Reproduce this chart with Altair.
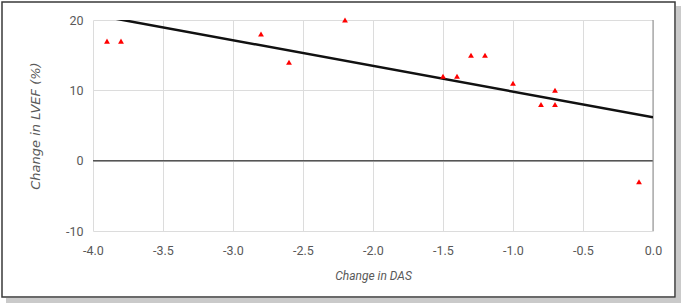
import altair as alt
import pandas as pd

das_change = [-3.9, -3.8, -2.8, -2.6, -2.2, -1.5, -1.4, -1.3, -1.2, -1.0, -0.8, -0.7, -0.7, -0.1]
lvef_change = [17, 17, 18, 14, 20, 12, 12, 15, 15, 11, 8, 10, 8, -3]
x_grid = [-4.0, -3.75, -3.5, -3.25, -3.0, -2.75, -2.5, -2.25, -2.0, -1.75, -1.5, -1.25, -1.0, -0.75, -0.5, -0.25, 0.0]
y_grid = [-10, -5, 0, 5, 10, 15, 20]

df = pd.DataFrame({"x": das_change, "y": lvef_change})

LABEL_FONT = "Liberation Sans Narrow, Roboto"
TITLE_FONT = "Liberation Sans Narrow, Roboto"
GRAY = "#595959"

xscale = alt.Scale(domain=[-4, 0], nice=False, zero=False)
yscale = alt.Scale(domain=[-10, 20], nice=False, zero=False)

xaxis = alt.Axis(
    values=x_grid, grid=True, gridColor="#dcdcdc", gridWidth=1, ticks=False, domain=False,
    labelExpr="abs(datum.value*2 - round(datum.value*2)) < 0.001 ? replace(format(datum.value, '.1f'), '\u2212', '-') : ''",
    labelFont=LABEL_FONT, labelFontSize=12.5, labelColor=GRAY, labelPadding=13,
    labelFlush=False, labelOverlap=False,
    title="Change in DAS", titleFont=TITLE_FONT, titleFontSize=12, titleFontStyle="italic",
    titleFontWeight="normal", titleColor=GRAY, titleX=280, titleY=48, titleBaseline="alphabetic",
)
yaxis = alt.Axis(
    values=y_grid, grid=True, gridColor="#dcdcdc", gridWidth=1, ticks=False, domain=False,
    labelExpr="datum.value % 10 == 0 ? replace(format(datum.value, 'd'), '\u2212', '-') : ''",
    labelFont=LABEL_FONT, labelFontSize=12.5, labelColor=GRAY, labelPadding=10,
    labelFlush=False, labelOverlap=False,
    title="Change in LVEF (%)", titleFont="DejaVu Sans", titleFontSize=13, titleFontStyle="italic",
    titleFontWeight="normal", titleColor=GRAY, titleAngle=270, titleX=-51, titleY=105.5,
    titleAlign="center", titleBaseline="bottom",
)

one = alt.Data(values=[{}])

shadow_r = alt.Chart(one).mark_rect(fill="#bdbdbd", opacity=0.8).encode(
    x=alt.value(583), x2=alt.value(588), y=alt.value(-14), y2=alt.value(283)
)
shadow_b = alt.Chart(one).mark_rect(fill="#bdbdbd", opacity=0.8).encode(
    x=alt.value(-87), x2=alt.value(583), y=alt.value(278), y2=alt.value(283)
)
frame = alt.Chart(one).mark_rect(fill=None, stroke="#3a3a3a", strokeWidth=1.5).encode(
    x=alt.value(-91), x2=alt.value(582), y=alt.value(-18), y2=alt.value(277)
)

base = alt.Chart(df)

grid_layer = base.mark_point(opacity=0).encode(
    x=alt.X("x:Q", scale=xscale, axis=xaxis),
    y=alt.Y("y:Q", scale=yscale, axis=yaxis),
)

zero_df = pd.DataFrame({"v": [0]})
hzero = alt.Chart(zero_df).mark_rule(color="#555555", strokeWidth=1.5).encode(
    y=alt.Y("v:Q", scale=yscale)
)
vzero = alt.Chart(zero_df).mark_rule(color="#8a8a8a", strokeWidth=1).encode(
    x=alt.X("v:Q", scale=xscale)
)

reg = base.transform_regression("x", "y", extent=[-4, 0]).mark_line(
    color="#111111", strokeWidth=2.5, clip=True
).encode(
    x=alt.X("x:Q", scale=xscale),
    y=alt.Y("y:Q", scale=yscale),
)

pts = base.mark_point(shape="triangle-up", filled=True, color="#ff0000", size=34, opacity=1).encode(
    x=alt.X("x:Q", scale=xscale),
    y=alt.Y("y:Q", scale=yscale),
)

chart = alt.layer(grid_layer, shadow_r, shadow_b, frame, hzero, vzero, reg, pts).properties(
    width=560, height=211,
    padding={"left": 93, "top": 20, "right": 32, "bottom": 76},
    autosize=alt.AutoSizeParams(type="none"),
    background="white",
).configure_view(stroke=None)

chart.save("out.html", embed_options={"renderer": "svg", "actions": False})
